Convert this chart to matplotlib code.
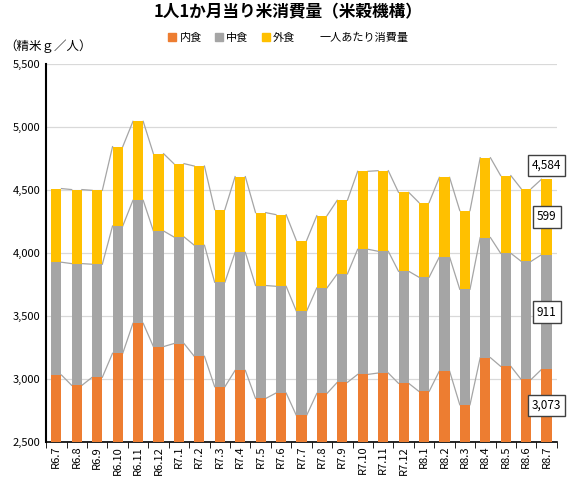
import numpy as np
import matplotlib.pyplot as plt
from matplotlib.lines import Line2D
from matplotlib.patches import Patch

plt.rcParams['font.family'] = ['Noto Sans CJK JP', 'DejaVu Sans']

months = ['R6.7', 'R6.8', 'R6.9', 'R6.10', 'R6.11', 'R6.12', 'R7.1', 'R7.2', 'R7.3',
          'R7.4', 'R7.5', 'R7.6', 'R7.7', 'R7.8', 'R7.9', 'R7.10', 'R7.11', 'R7.12',
          'R8.1', 'R8.2', 'R8.3', 'R8.4', 'R8.5', 'R8.6', 'R8.7']
uchi = [3029, 2947, 3011, 3202, 3440, 3255, 3279, 3178, 2936, 3066, 2843, 2886, 2708,
        2883, 2971, 3034, 3045, 2963, 2899, 3061, 2793, 3167, 3098, 2995, 3073.4]
naka = [896, 967, 898, 1011, 977, 918, 847, 882, 830, 938, 897, 848, 828,
        838, 861, 994, 967, 890, 907, 906, 917, 954, 898, 938, 911.3]
soto = [585, 588, 587, 630, 627, 614, 582, 629, 577, 601, 579, 569, 561,
        574, 585, 619, 640, 627, 593, 632, 625, 634, 617, 577, 599.4]

c_uchi = '#ED7D31'
c_naka = '#A5A5A5'
c_soto = '#FFC000'

uchi = np.array(uchi)
naka = np.array(naka)
soto = np.array(soto)
total = uchi + naka + soto
x = np.arange(len(months))
w = 0.5

fig = plt.figure(figsize=(5.77, 4.88), dpi=100)
ax = fig.add_axes([0.08, 0.095, 0.885, 0.774])

ax.bar(x, uchi, w, color=c_uchi, zorder=3)
ax.bar(x, naka, w, bottom=uchi, color=c_naka, zorder=3)
ax.bar(x, soto, w, bottom=uchi + naka, color=c_soto, zorder=3)

# series lines between bars
for tops in [uchi, uchi + naka, total]:
    for i in range(len(x) - 1):
        ax.plot([x[i] + w / 2, x[i + 1] - w / 2], [tops[i], tops[i + 1]],
                color='#A5A5A5', lw=0.9, zorder=2)

ax.set_ylim(2500, 5500)
ax.set_xlim(-0.5, len(x) - 0.5)
ax.set_yticks(np.arange(2500, 5501, 500))
ax.set_yticklabels([f'{v:,}' for v in range(2500, 5501, 500)], fontsize=8)
ax.set_xticks(x)
ax.set_xticklabels(months, rotation=90, fontsize=8)
ax.set_xticks(np.arange(-0.5, len(x), 1), minor=True)
ax.tick_params(axis='x', which='major', length=0, pad=3)
ax.tick_params(axis='x', which='minor', length=4, color='black')
ax.tick_params(axis='y', length=0, pad=4)
ax.grid(axis='y', color='#D9D9D9', lw=0.9, zorder=0)
for s in ['top', 'right']:
    ax.spines[s].set_visible(False)
ax.spines['left'].set_linewidth(1.5)
ax.spines['bottom'].set_linewidth(1.2)

# data labels for last month
last = len(x) - 1
box = dict(boxstyle='square,pad=0.35', fc='white', ec='#404040', lw=1)
ax.text(x[last], total[last] + 110, f'{total[last]:,.0f}', ha='center', va='center',
        fontsize=8.5, bbox=box, zorder=5)
ax.text(x[last], uchi[last] + naka[last] + soto[last] / 2, f'{soto[last]:,.0f}',
        ha='center', va='center', fontsize=8.5, bbox=box, zorder=5)
ax.text(x[last], uchi[last] + naka[last] / 2, f'{naka[last]:,.0f}',
        ha='center', va='center', fontsize=8.5, bbox=box, zorder=5)
ax.text(x[last], (2500 + uchi[last]) / 2, f'{uchi[last]:,.0f}',
        ha='center', va='center', fontsize=8.5, bbox=box, zorder=5)

fig.text(0.5, 0.975, '1人1か月当り米消費量（米穀機構）', ha='center', va='center',
         fontsize=12, fontweight='bold')
fig.text(0.008, 0.905, '（精米ｇ／人）', ha='left', va='center', fontsize=9)

handles = [Patch(color=c_uchi), Patch(color=c_naka), Patch(color=c_soto),
           Line2D([], [], color='none')]
labels = ['内食', '中食', '外食', '一人あたり消費量']
fig.legend(handles, labels, loc='center', bbox_to_anchor=(0.5, 0.922), ncol=4,
           frameon=False, fontsize=8, handlelength=0.7, handleheight=0.7,
           handletextpad=0.3, columnspacing=1.2)

fig.savefig('out.png', dpi=100)
